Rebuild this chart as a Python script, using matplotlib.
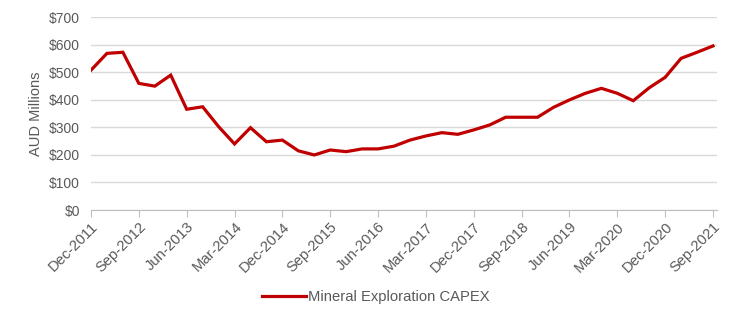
import matplotlib
matplotlib.use("Agg")
import matplotlib.pyplot as plt

plt.rcParams['font.family'] = ['Liberation Sans', 'DejaVu Sans']

# quarterly, Dec-2011 .. Sep-2021
capex = [508, 569, 573, 460, 450, 490, 366, 375, 303, 240,
         299, 248, 254, 215, 200, 218, 212, 222, 222, 232,
         254, 269, 281, 275, 291, 309, 337, 337, 337, 373,
         400, 424, 442, 424, 397, 444, 482, 551, 573, 596]
tick_labels = ['Dec-2011', 'Sep-2012', 'Jun-2013', 'Mar-2014', 'Dec-2014',
               'Sep-2015', 'Jun-2016', 'Mar-2017', 'Dec-2017', 'Sep-2018',
               'Jun-2019', 'Mar-2020', 'Dec-2020', 'Sep-2021']
y_ticks = [0, 100, 200, 300, 400, 500, 600, 700]

grey = '#595959'

fig = plt.figure(figsize=(7.44, 3.23), dpi=100)
ax = fig.add_axes([0.1223, 0.3498, 0.8414, 0.5966])

x = list(range(len(capex)))
ax.plot(x, capex, color='#C00000', lw=2.3, label='Mineral Exploration CAPEX',
        solid_joinstyle='miter', zorder=3)

ax.set_xlim(0, 39.25)
ax.set_ylim(0, 700)
ax.set_yticks(y_ticks)
ax.set_yticklabels(['${}'.format(v) for v in y_ticks])
ax.set_xticks(x[::3])
ax.set_xticklabels(tick_labels, rotation=45, ha='right', rotation_mode='anchor')

ax.grid(axis='y', color='#D9D9D9', lw=1)
ax.set_axisbelow(True)
for s in ['top', 'right', 'left']:
    ax.spines[s].set_visible(False)
ax.spines['bottom'].set_color('#BFBFBF')
ax.tick_params(axis='y', length=0, pad=8, labelsize=10, labelcolor=grey)
ax.tick_params(axis='x', length=5, color='#BFBFBF', pad=2, labelsize=10.6, labelcolor=grey)
ax.set_ylabel('AUD Millions', fontsize=10.5, color=grey, labelpad=4)

fig.legend(loc='center', bbox_to_anchor=(0.505, 0.08), frameon=False,
           fontsize=10.6, labelcolor=grey, handlelength=3.0, handletextpad=0.1)

fig.savefig('out.png', dpi=100)
